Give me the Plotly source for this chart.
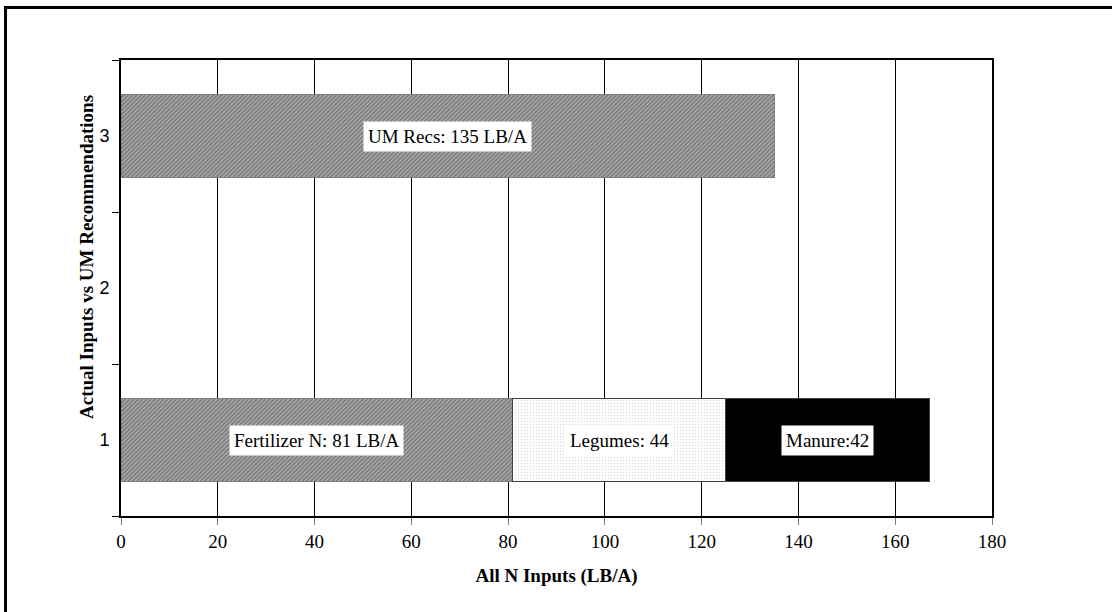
import plotly.graph_objects as go

# Categories on the vertical axis
categories = ["1", "2", "3"]

# N input components (LB/A) per category
fertilizer_n = [81, None, None]
legumes = [44, None, None]
manure = [42, None, None]
um_recs = [None, None, 135]

SERIF = "Liberation Serif, Times New Roman, serif"
SANS = "Liberation Sans, Arial, sans-serif"

hatch = dict(shape="/", size=3, solidity=0.85, fgcolor="#000000", bgcolor="#ffffff")
dots = dict(shape=".", size=3, solidity=0.2, fgcolor="#b8b8b8", bgcolor="#ffffff")

series = [
    ("Fertilizer N", fertilizer_n, dict(color="#ffffff", pattern=hatch,
                                        line=dict(color="#808080", width=1))),
    ("Legumes", legumes, dict(color="#ffffff", pattern=dots,
                              line=dict(color="#404040", width=1))),
    ("Manure", manure, dict(color="#000000", line=dict(color="#404040", width=1))),
    ("UM Recs", um_recs, dict(color="#ffffff", pattern=hatch,
                              line=dict(color="#808080", width=1))),
]

fig = go.Figure()
for name, vals, marker in series:
    fig.add_trace(go.Bar(
        name=name, y=categories, x=vals, orientation="h",
        width=0.54, marker=marker, showlegend=False,
    ))

# Segment labels centred on each stacked segment
label_fmt = {
    "Fertilizer N": "Fertilizer N: {} LB/A",
    "Legumes": "Legumes: {}",
    "Manure": "Manure:{}",
    "UM Recs": "UM Recs: {} LB/A",
}
base = {c: 0 for c in categories}
for name, vals, _ in series:
    for idx, (cat, v) in enumerate(zip(categories, vals)):
        if v is None:
            continue
        fig.add_annotation(
            x=base[cat] + v / 2, y=idx, xref="x", yref="y",
            text=label_fmt[name].format(v), showarrow=False,
            bgcolor="#ffffff", borderpad=4,
            font=dict(family=SERIF, size=19, color="#000000"),
        )
        base[cat] += v

# Plot-area geometry in pixels
L, T, W, H = 121, 60, 871, 456
def px_x(p):
    return (p - L) / W
def px_y(p):
    return (T + H - p) / H

# Vertical axis title
fig.add_annotation(
    x=px_x(86), y=px_y(257), xref="paper", yref="paper",
    xanchor="center", yanchor="middle",
    text="<b>Actual Inputs vs UM Recommendations</b>", textangle=-90,
    showarrow=False, font=dict(family=SERIF, size=19, color="#000000"),
)

# Outer frame
fig.add_shape(
    type="path", xref="paper", yref="paper",
    path=f"M {px_x(5.5)} {px_y(640)} L {px_x(5.5)} {px_y(7.5)} L {px_x(1140)} {px_y(7.5)}",
    line=dict(color="#000000", width=3),
)

fig.update_layout(
    width=1112, height=612,
    margin=dict(l=L, r=1112 - L - W, t=T, b=612 - T - H, pad=0),
    paper_bgcolor="#ffffff", plot_bgcolor="#ffffff",
    barmode="stack", bargap=0.46,
    font=dict(family=SERIF, size=19, color="#000000"),
    xaxis=dict(
        range=[0, 180], tick0=0, dtick=20,
        ticks="outside", ticklen=7, tickcolor="#808080", tickwidth=1,
        showline=True, linecolor="#000000", linewidth=2, mirror=True,
        showgrid=True, gridcolor="#000000", gridwidth=1, zeroline=False,
        tickfont=dict(family=SERIF, size=19, color="#000000"),
        title=dict(text="<b>All N Inputs (LB/A)</b>", standoff=18,
                   font=dict(family=SERIF, size=19, color="#000000")),
    ),
    yaxis=dict(
        type="category", categoryorder="array", categoryarray=categories,
        range=[-0.5, 2.5], tickson="boundaries",
        ticks="outside", ticklen=7, tickcolor="#000000", tickwidth=1,
        ticklabelstandoff=6,
        showline=True, linecolor="#000000", linewidth=2, mirror=True,
        showgrid=False, zeroline=False,
        tickfont=dict(family=SANS, size=18, color="#000000"),
    ),
)

fig.write_html("out.html")
